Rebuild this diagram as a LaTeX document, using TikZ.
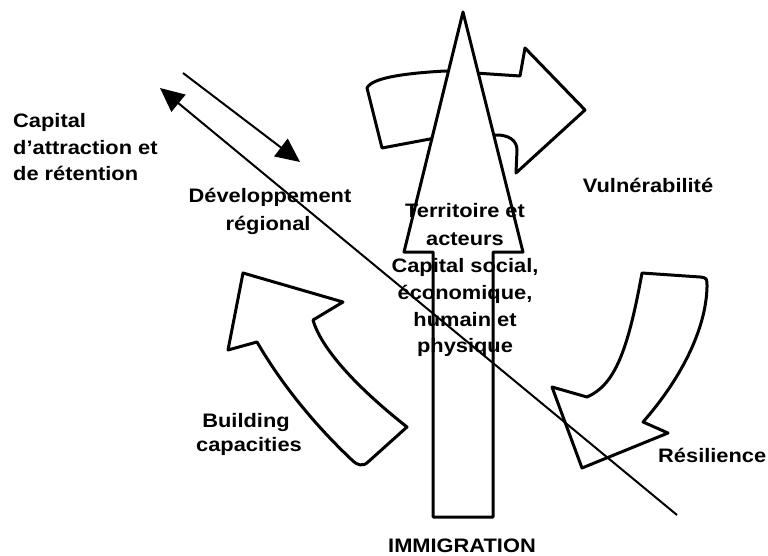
\documentclass[tikz,border=0pt]{standalone}
\usepackage{fontspec}
\setmainfont{Liberation Sans}[FakeStretch=1.12]
\usetikzlibrary{arrows.meta}
\tikzset{
  shp/.style={draw=black, fill=white, line width=3pt, line join=round},
  lnk/.style={draw=black, line width=2pt},
  head/.style={-{Triangle[length=24pt,width=22pt]}},
  lab/.style={font=\fontsize{19.5}{24}\selectfont\bfseries, inner sep=0pt, anchor=base},
  labw/.style={lab, anchor=base west}
}
\begin{document}
\begin{tikzpicture}[x=1pt,y=-1pt]
\useasboundingbox (0,0) rectangle (768,556);
% top curved arrow (Vulnerabilite)
\draw[shp] (382,148) -- (367,88) .. controls (372,77) and (410,73) .. (445,71)
  -- (520,76) -- (525,48) -- (585,110) -- (516,173) -- (517,150)
  .. controls (517,140) and (508,135) .. (497,135) -- (430,139) -- cycle;
% left arrow (Building capacities)
\draw[shp] (243,273) -- (343,302) -- (313,320)
  .. controls (320,345) and (350,382) .. (407,427) -- (368,462)
  .. controls (363,467) and (357,465) .. (353,461)
  .. controls (320,430) and (285,390) .. (257,342) -- (228,350) -- cycle;
% right arrow (Resilience)
\draw[shp] (642,273) -- (700,277) .. controls (707,278) .. (707,287)
  .. controls (706,330) and (680,380) .. (643,422) -- (668,433) -- (582,468)
  -- (552,387) -- (587,397) .. controls (615,385) and (628,350) .. (642,273) -- cycle;
% big vertical arrow
\draw[shp] (463,12) -- (523,252) -- (493,252) -- (493,517) -- (433,517)
  -- (433,252) -- (404,252) -- cycle;
% lines
\coordinate (la) at (160,88);
\coordinate (lb) at (677,515);
\coordinate (sa) at (183,73);
\coordinate (sb) at (300,162);
\draw[lnk, {Triangle[length=24pt,width=22pt]}-] (la) -- (lb);
\draw[lnk, head] (sa) -- (sb);
% labels
\node[labw] (c1) at (13,128) {Capital};
\node[labw] (c2) at (13,155) {d’attraction et};
\node[labw] (c3) at (13,181) {de rétention};
\node[lab] (d1) at (270,203) {Développement};
\node[lab] (d2) at (268,230) {régional};
\node[lab] (v1) at (648,193) {Vulnérabilité};
\node[lab] (t1) at (465,218) {Territoire et};
\node[lab] (t2) at (465,245) {acteurs};
\node[lab] (t3) at (465,272) {Capital social,};
\node[lab] (t4) at (465,299) {économique,};
\node[lab] (t5) at (465,326) {humain et};
\node[lab] (t6) at (465,352) {physique};
\node[lab] (b1) at (246,427) {Building};
\node[lab] (b2) at (249,451) {capacities};
\node[labw] (r1) at (658,462) {Résilience};
\node[lab] (i1) at (462,552) {IMMIGRATION};
\end{tikzpicture}
\end{document}
